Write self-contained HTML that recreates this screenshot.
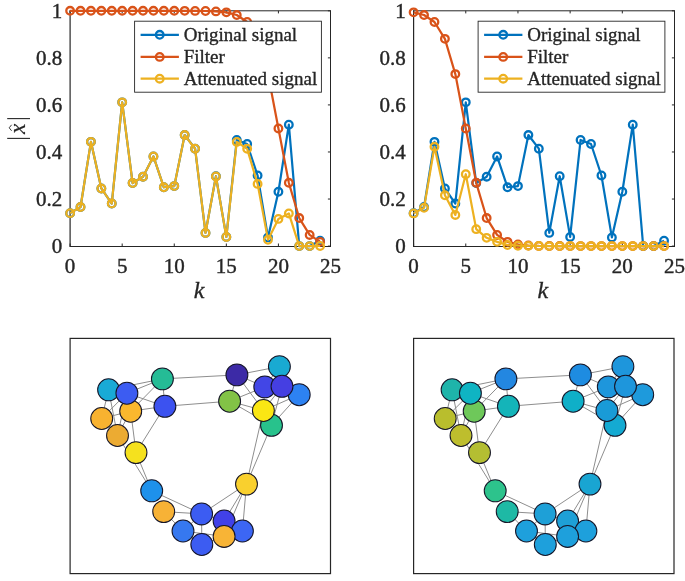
<!DOCTYPE html>
<html><head><meta charset="utf-8"><style>
html,body{margin:0;padding:0;background:#fff;width:685px;height:581px;overflow:hidden}
svg{display:block;filter:blur(0.35px)}
.t{font-family:"Liberation Serif",serif;font-size:21px;fill:#262626;stroke:#262626;stroke-width:0.4px}
.lg{font-family:"Liberation Serif",serif;font-size:19px;fill:#262626;stroke:#262626;stroke-width:0.35px}
.xl{font-family:"Liberation Serif",serif;font-style:italic;font-size:24px;fill:#262626;stroke:#262626;stroke-width:0.3px}
</style></head><body>
<svg width="685" height="581" viewBox="0 0 685 581">
<path d="M70.1,10.8 H330.5 V246.5 H70.1 Z" fill="#fff" stroke="none"/>
<line x1="70.1" y1="10.8" x2="70.1" y2="246.5" stroke="#262626" stroke-width="1.2"/>
<line x1="69.5" y1="246.5" x2="331.0" y2="246.5" stroke="#262626" stroke-width="1"/>
<line x1="69.5" y1="10.8" x2="331.0" y2="10.8" stroke="#262626" stroke-width="1"/>
<line x1="330.5" y1="10.8" x2="330.5" y2="246.5" stroke="#262626" stroke-width="1"/>
<line x1="70.1" y1="246.1" x2="70.1" y2="243.5" stroke="#262626" stroke-width="1"/>
<line x1="70.1" y1="10.8" x2="70.1" y2="13.4" stroke="#262626" stroke-width="1"/>
<text x="70.1" y="272.5" text-anchor="middle" class="t">0</text>
<line x1="122.18" y1="246.1" x2="122.18" y2="243.5" stroke="#262626" stroke-width="1"/>
<line x1="122.18" y1="10.8" x2="122.18" y2="13.4" stroke="#262626" stroke-width="1"/>
<text x="122.18" y="272.5" text-anchor="middle" class="t">5</text>
<line x1="174.26" y1="246.1" x2="174.26" y2="243.5" stroke="#262626" stroke-width="1"/>
<line x1="174.26" y1="10.8" x2="174.26" y2="13.4" stroke="#262626" stroke-width="1"/>
<text x="174.26" y="272.5" text-anchor="middle" class="t">10</text>
<line x1="226.34" y1="246.1" x2="226.34" y2="243.5" stroke="#262626" stroke-width="1"/>
<line x1="226.34" y1="10.8" x2="226.34" y2="13.4" stroke="#262626" stroke-width="1"/>
<text x="226.34" y="272.5" text-anchor="middle" class="t">15</text>
<line x1="278.42" y1="246.1" x2="278.42" y2="243.5" stroke="#262626" stroke-width="1"/>
<line x1="278.42" y1="10.8" x2="278.42" y2="13.4" stroke="#262626" stroke-width="1"/>
<text x="278.42" y="272.5" text-anchor="middle" class="t">20</text>
<line x1="330.5" y1="246.1" x2="330.5" y2="243.5" stroke="#262626" stroke-width="1"/>
<line x1="330.5" y1="10.8" x2="330.5" y2="13.4" stroke="#262626" stroke-width="1"/>
<text x="330.5" y="272.5" text-anchor="middle" class="t">25</text>
<line x1="330.5" y1="246.1" x2="327.9" y2="246.1" stroke="#262626" stroke-width="1"/>
<text x="62.3" y="253.30" text-anchor="end" class="t">0</text>
<line x1="330.5" y1="199.04" x2="327.9" y2="199.04" stroke="#262626" stroke-width="1"/>
<text x="62.3" y="206.24" text-anchor="end" class="t">0.2</text>
<line x1="330.5" y1="151.98" x2="327.9" y2="151.98" stroke="#262626" stroke-width="1"/>
<text x="62.3" y="159.18" text-anchor="end" class="t">0.4</text>
<line x1="330.5" y1="104.92" x2="327.9" y2="104.92" stroke="#262626" stroke-width="1"/>
<text x="62.3" y="112.12" text-anchor="end" class="t">0.6</text>
<line x1="330.5" y1="57.86" x2="327.9" y2="57.86" stroke="#262626" stroke-width="1"/>
<text x="62.3" y="65.06" text-anchor="end" class="t">0.8</text>
<line x1="330.5" y1="10.8" x2="327.9" y2="10.8" stroke="#262626" stroke-width="1"/>
<text x="62.3" y="18.00" text-anchor="end" class="t">1</text>
<polyline points="70.10,213.16 80.52,207.04 90.93,141.86 101.35,188.45 111.76,203.51 122.18,102.33 132.60,183.04 143.01,176.69 153.43,156.45 163.84,187.28 174.26,186.10 184.68,135.04 195.09,148.69 205.51,232.92 215.92,176.22 226.34,236.92 236.76,139.98 247.17,143.98 257.59,175.51 268.00,237.39 278.42,191.75 288.84,124.69 299.25,246.10 309.67,246.10 320.08,240.69" fill="none" stroke="#0072BD" stroke-width="2.2" stroke-linejoin="round"/>
<circle cx="70.10" cy="213.16" r="3.8" fill="none" stroke="#0072BD" stroke-width="2.3"/>
<circle cx="80.52" cy="207.04" r="3.8" fill="none" stroke="#0072BD" stroke-width="2.3"/>
<circle cx="90.93" cy="141.86" r="3.8" fill="none" stroke="#0072BD" stroke-width="2.3"/>
<circle cx="101.35" cy="188.45" r="3.8" fill="none" stroke="#0072BD" stroke-width="2.3"/>
<circle cx="111.76" cy="203.51" r="3.8" fill="none" stroke="#0072BD" stroke-width="2.3"/>
<circle cx="122.18" cy="102.33" r="3.8" fill="none" stroke="#0072BD" stroke-width="2.3"/>
<circle cx="132.60" cy="183.04" r="3.8" fill="none" stroke="#0072BD" stroke-width="2.3"/>
<circle cx="143.01" cy="176.69" r="3.8" fill="none" stroke="#0072BD" stroke-width="2.3"/>
<circle cx="153.43" cy="156.45" r="3.8" fill="none" stroke="#0072BD" stroke-width="2.3"/>
<circle cx="163.84" cy="187.28" r="3.8" fill="none" stroke="#0072BD" stroke-width="2.3"/>
<circle cx="174.26" cy="186.10" r="3.8" fill="none" stroke="#0072BD" stroke-width="2.3"/>
<circle cx="184.68" cy="135.04" r="3.8" fill="none" stroke="#0072BD" stroke-width="2.3"/>
<circle cx="195.09" cy="148.69" r="3.8" fill="none" stroke="#0072BD" stroke-width="2.3"/>
<circle cx="205.51" cy="232.92" r="3.8" fill="none" stroke="#0072BD" stroke-width="2.3"/>
<circle cx="215.92" cy="176.22" r="3.8" fill="none" stroke="#0072BD" stroke-width="2.3"/>
<circle cx="226.34" cy="236.92" r="3.8" fill="none" stroke="#0072BD" stroke-width="2.3"/>
<circle cx="236.76" cy="139.98" r="3.8" fill="none" stroke="#0072BD" stroke-width="2.3"/>
<circle cx="247.17" cy="143.98" r="3.8" fill="none" stroke="#0072BD" stroke-width="2.3"/>
<circle cx="257.59" cy="175.51" r="3.8" fill="none" stroke="#0072BD" stroke-width="2.3"/>
<circle cx="268.00" cy="237.39" r="3.8" fill="none" stroke="#0072BD" stroke-width="2.3"/>
<circle cx="278.42" cy="191.75" r="3.8" fill="none" stroke="#0072BD" stroke-width="2.3"/>
<circle cx="288.84" cy="124.69" r="3.8" fill="none" stroke="#0072BD" stroke-width="2.3"/>
<circle cx="299.25" cy="246.10" r="3.8" fill="none" stroke="#0072BD" stroke-width="2.3"/>
<circle cx="309.67" cy="246.10" r="3.8" fill="none" stroke="#0072BD" stroke-width="2.3"/>
<circle cx="320.08" cy="240.69" r="3.8" fill="none" stroke="#0072BD" stroke-width="2.3"/>
<polyline points="70.10,10.80 80.52,10.80 90.93,10.80 101.35,10.80 111.76,10.80 122.18,10.80 132.60,10.80 143.01,10.80 153.43,10.80 163.84,10.80 174.26,10.81 184.68,10.83 195.09,10.88 205.51,11.01 215.92,11.38 226.34,12.37 236.76,15.03 247.17,21.96 257.59,38.85 268.00,74.08 278.42,128.45 288.84,182.82 299.25,218.05 309.67,234.94 320.08,241.87" fill="none" stroke="#D95319" stroke-width="2.2" stroke-linejoin="round"/>
<circle cx="70.10" cy="10.80" r="3.8" fill="none" stroke="#D95319" stroke-width="2.3"/>
<circle cx="80.52" cy="10.80" r="3.8" fill="none" stroke="#D95319" stroke-width="2.3"/>
<circle cx="90.93" cy="10.80" r="3.8" fill="none" stroke="#D95319" stroke-width="2.3"/>
<circle cx="101.35" cy="10.80" r="3.8" fill="none" stroke="#D95319" stroke-width="2.3"/>
<circle cx="111.76" cy="10.80" r="3.8" fill="none" stroke="#D95319" stroke-width="2.3"/>
<circle cx="122.18" cy="10.80" r="3.8" fill="none" stroke="#D95319" stroke-width="2.3"/>
<circle cx="132.60" cy="10.80" r="3.8" fill="none" stroke="#D95319" stroke-width="2.3"/>
<circle cx="143.01" cy="10.80" r="3.8" fill="none" stroke="#D95319" stroke-width="2.3"/>
<circle cx="153.43" cy="10.80" r="3.8" fill="none" stroke="#D95319" stroke-width="2.3"/>
<circle cx="163.84" cy="10.80" r="3.8" fill="none" stroke="#D95319" stroke-width="2.3"/>
<circle cx="174.26" cy="10.81" r="3.8" fill="none" stroke="#D95319" stroke-width="2.3"/>
<circle cx="184.68" cy="10.83" r="3.8" fill="none" stroke="#D95319" stroke-width="2.3"/>
<circle cx="195.09" cy="10.88" r="3.8" fill="none" stroke="#D95319" stroke-width="2.3"/>
<circle cx="205.51" cy="11.01" r="3.8" fill="none" stroke="#D95319" stroke-width="2.3"/>
<circle cx="215.92" cy="11.38" r="3.8" fill="none" stroke="#D95319" stroke-width="2.3"/>
<circle cx="226.34" cy="12.37" r="3.8" fill="none" stroke="#D95319" stroke-width="2.3"/>
<circle cx="236.76" cy="15.03" r="3.8" fill="none" stroke="#D95319" stroke-width="2.3"/>
<circle cx="247.17" cy="21.96" r="3.8" fill="none" stroke="#D95319" stroke-width="2.3"/>
<circle cx="257.59" cy="38.85" r="3.8" fill="none" stroke="#D95319" stroke-width="2.3"/>
<circle cx="268.00" cy="74.08" r="3.8" fill="none" stroke="#D95319" stroke-width="2.3"/>
<circle cx="278.42" cy="128.45" r="3.8" fill="none" stroke="#D95319" stroke-width="2.3"/>
<circle cx="288.84" cy="182.82" r="3.8" fill="none" stroke="#D95319" stroke-width="2.3"/>
<circle cx="299.25" cy="218.05" r="3.8" fill="none" stroke="#D95319" stroke-width="2.3"/>
<circle cx="309.67" cy="234.94" r="3.8" fill="none" stroke="#D95319" stroke-width="2.3"/>
<circle cx="320.08" cy="241.87" r="3.8" fill="none" stroke="#D95319" stroke-width="2.3"/>
<polyline points="70.10,213.16 80.52,207.04 90.93,141.86 101.35,188.45 111.76,203.51 122.18,102.33 132.60,183.04 143.01,176.69 153.43,156.45 163.84,187.28 174.26,186.10 184.68,135.05 195.09,148.72 205.51,232.94 215.92,176.39 226.34,236.98 236.76,141.89 247.17,148.82 257.59,183.92 268.00,239.74 278.42,218.92 288.84,213.45 299.25,246.10 309.67,246.10 320.08,246.00" fill="none" stroke="#EDB120" stroke-width="2.2" stroke-linejoin="round"/>
<circle cx="70.10" cy="213.16" r="3.8" fill="none" stroke="#EDB120" stroke-width="2.3"/>
<circle cx="80.52" cy="207.04" r="3.8" fill="none" stroke="#EDB120" stroke-width="2.3"/>
<circle cx="90.93" cy="141.86" r="3.8" fill="none" stroke="#EDB120" stroke-width="2.3"/>
<circle cx="101.35" cy="188.45" r="3.8" fill="none" stroke="#EDB120" stroke-width="2.3"/>
<circle cx="111.76" cy="203.51" r="3.8" fill="none" stroke="#EDB120" stroke-width="2.3"/>
<circle cx="122.18" cy="102.33" r="3.8" fill="none" stroke="#EDB120" stroke-width="2.3"/>
<circle cx="132.60" cy="183.04" r="3.8" fill="none" stroke="#EDB120" stroke-width="2.3"/>
<circle cx="143.01" cy="176.69" r="3.8" fill="none" stroke="#EDB120" stroke-width="2.3"/>
<circle cx="153.43" cy="156.45" r="3.8" fill="none" stroke="#EDB120" stroke-width="2.3"/>
<circle cx="163.84" cy="187.28" r="3.8" fill="none" stroke="#EDB120" stroke-width="2.3"/>
<circle cx="174.26" cy="186.10" r="3.8" fill="none" stroke="#EDB120" stroke-width="2.3"/>
<circle cx="184.68" cy="135.05" r="3.8" fill="none" stroke="#EDB120" stroke-width="2.3"/>
<circle cx="195.09" cy="148.72" r="3.8" fill="none" stroke="#EDB120" stroke-width="2.3"/>
<circle cx="205.51" cy="232.94" r="3.8" fill="none" stroke="#EDB120" stroke-width="2.3"/>
<circle cx="215.92" cy="176.39" r="3.8" fill="none" stroke="#EDB120" stroke-width="2.3"/>
<circle cx="226.34" cy="236.98" r="3.8" fill="none" stroke="#EDB120" stroke-width="2.3"/>
<circle cx="236.76" cy="141.89" r="3.8" fill="none" stroke="#EDB120" stroke-width="2.3"/>
<circle cx="247.17" cy="148.82" r="3.8" fill="none" stroke="#EDB120" stroke-width="2.3"/>
<circle cx="257.59" cy="183.92" r="3.8" fill="none" stroke="#EDB120" stroke-width="2.3"/>
<circle cx="268.00" cy="239.74" r="3.8" fill="none" stroke="#EDB120" stroke-width="2.3"/>
<circle cx="278.42" cy="218.92" r="3.8" fill="none" stroke="#EDB120" stroke-width="2.3"/>
<circle cx="288.84" cy="213.45" r="3.8" fill="none" stroke="#EDB120" stroke-width="2.3"/>
<circle cx="299.25" cy="246.10" r="3.8" fill="none" stroke="#EDB120" stroke-width="2.3"/>
<circle cx="309.67" cy="246.10" r="3.8" fill="none" stroke="#EDB120" stroke-width="2.3"/>
<circle cx="320.08" cy="246.00" r="3.8" fill="none" stroke="#EDB120" stroke-width="2.3"/>
<rect x="134.6" y="21.2" width="186.79999999999998" height="71.0" fill="#fff" stroke="#262626" stroke-width="0.9"/>
<line x1="140.6" y1="34.8" x2="178.89999999999998" y2="34.8" stroke="#0072BD" stroke-width="2.2"/>
<circle cx="159.7" cy="34.8" r="3.8" fill="none" stroke="#0072BD" stroke-width="2.3"/>
<text x="183.7" y="41.10" class="lg">Original signal</text>
<line x1="140.6" y1="56.9" x2="178.89999999999998" y2="56.9" stroke="#D95319" stroke-width="2.2"/>
<circle cx="159.7" cy="56.9" r="3.8" fill="none" stroke="#D95319" stroke-width="2.3"/>
<text x="183.7" y="63.20" class="lg">Filter</text>
<line x1="140.6" y1="78.7" x2="178.89999999999998" y2="78.7" stroke="#EDB120" stroke-width="2.2"/>
<circle cx="159.7" cy="78.7" r="3.8" fill="none" stroke="#EDB120" stroke-width="2.3"/>
<text x="183.7" y="85.00" class="lg">Attenuated signal</text>
<text x="199.10" y="298" text-anchor="middle" class="xl">k</text>
<path d="M413.6,10.8 H674.5 V246.5 H413.6 Z" fill="#fff" stroke="none"/>
<line x1="413.6" y1="10.8" x2="413.6" y2="246.5" stroke="#262626" stroke-width="1.2"/>
<line x1="413.0" y1="246.5" x2="675.0" y2="246.5" stroke="#262626" stroke-width="1"/>
<line x1="413.0" y1="10.8" x2="675.0" y2="10.8" stroke="#262626" stroke-width="1"/>
<line x1="674.5" y1="10.8" x2="674.5" y2="246.5" stroke="#262626" stroke-width="1"/>
<line x1="413.6" y1="246.1" x2="413.6" y2="243.5" stroke="#262626" stroke-width="1"/>
<line x1="413.6" y1="10.8" x2="413.6" y2="13.4" stroke="#262626" stroke-width="1"/>
<text x="413.6" y="272.5" text-anchor="middle" class="t">0</text>
<line x1="465.78" y1="246.1" x2="465.78" y2="243.5" stroke="#262626" stroke-width="1"/>
<line x1="465.78" y1="10.8" x2="465.78" y2="13.4" stroke="#262626" stroke-width="1"/>
<text x="465.78" y="272.5" text-anchor="middle" class="t">5</text>
<line x1="517.96" y1="246.1" x2="517.96" y2="243.5" stroke="#262626" stroke-width="1"/>
<line x1="517.96" y1="10.8" x2="517.96" y2="13.4" stroke="#262626" stroke-width="1"/>
<text x="517.96" y="272.5" text-anchor="middle" class="t">10</text>
<line x1="570.14" y1="246.1" x2="570.14" y2="243.5" stroke="#262626" stroke-width="1"/>
<line x1="570.14" y1="10.8" x2="570.14" y2="13.4" stroke="#262626" stroke-width="1"/>
<text x="570.14" y="272.5" text-anchor="middle" class="t">15</text>
<line x1="622.32" y1="246.1" x2="622.32" y2="243.5" stroke="#262626" stroke-width="1"/>
<line x1="622.32" y1="10.8" x2="622.32" y2="13.4" stroke="#262626" stroke-width="1"/>
<text x="622.32" y="272.5" text-anchor="middle" class="t">20</text>
<line x1="674.5" y1="246.1" x2="674.5" y2="243.5" stroke="#262626" stroke-width="1"/>
<line x1="674.5" y1="10.8" x2="674.5" y2="13.4" stroke="#262626" stroke-width="1"/>
<text x="674.5" y="272.5" text-anchor="middle" class="t">25</text>
<line x1="674.5" y1="246.1" x2="671.9" y2="246.1" stroke="#262626" stroke-width="1"/>
<text x="405.8" y="253.30" text-anchor="end" class="t">0</text>
<line x1="674.5" y1="199.04" x2="671.9" y2="199.04" stroke="#262626" stroke-width="1"/>
<text x="405.8" y="206.24" text-anchor="end" class="t">0.2</text>
<line x1="674.5" y1="151.98" x2="671.9" y2="151.98" stroke="#262626" stroke-width="1"/>
<text x="405.8" y="159.18" text-anchor="end" class="t">0.4</text>
<line x1="674.5" y1="104.92" x2="671.9" y2="104.92" stroke="#262626" stroke-width="1"/>
<text x="405.8" y="112.12" text-anchor="end" class="t">0.6</text>
<line x1="674.5" y1="57.86" x2="671.9" y2="57.86" stroke="#262626" stroke-width="1"/>
<text x="405.8" y="65.06" text-anchor="end" class="t">0.8</text>
<line x1="674.5" y1="10.8" x2="671.9" y2="10.8" stroke="#262626" stroke-width="1"/>
<text x="405.8" y="18.00" text-anchor="end" class="t">1</text>
<polyline points="413.60,213.16 424.04,207.04 434.47,141.86 444.91,188.45 455.34,203.51 465.78,102.33 476.22,183.04 486.65,176.69 497.09,156.45 507.52,187.28 517.96,186.10 528.40,135.04 538.83,148.69 549.27,232.92 559.70,176.22 570.14,236.92 580.58,139.98 591.01,143.98 601.45,175.51 611.88,237.39 622.32,191.75 632.76,124.69 643.19,246.10 653.63,246.10 664.06,240.69" fill="none" stroke="#0072BD" stroke-width="2.2" stroke-linejoin="round"/>
<circle cx="413.60" cy="213.16" r="3.8" fill="none" stroke="#0072BD" stroke-width="2.3"/>
<circle cx="424.04" cy="207.04" r="3.8" fill="none" stroke="#0072BD" stroke-width="2.3"/>
<circle cx="434.47" cy="141.86" r="3.8" fill="none" stroke="#0072BD" stroke-width="2.3"/>
<circle cx="444.91" cy="188.45" r="3.8" fill="none" stroke="#0072BD" stroke-width="2.3"/>
<circle cx="455.34" cy="203.51" r="3.8" fill="none" stroke="#0072BD" stroke-width="2.3"/>
<circle cx="465.78" cy="102.33" r="3.8" fill="none" stroke="#0072BD" stroke-width="2.3"/>
<circle cx="476.22" cy="183.04" r="3.8" fill="none" stroke="#0072BD" stroke-width="2.3"/>
<circle cx="486.65" cy="176.69" r="3.8" fill="none" stroke="#0072BD" stroke-width="2.3"/>
<circle cx="497.09" cy="156.45" r="3.8" fill="none" stroke="#0072BD" stroke-width="2.3"/>
<circle cx="507.52" cy="187.28" r="3.8" fill="none" stroke="#0072BD" stroke-width="2.3"/>
<circle cx="517.96" cy="186.10" r="3.8" fill="none" stroke="#0072BD" stroke-width="2.3"/>
<circle cx="528.40" cy="135.04" r="3.8" fill="none" stroke="#0072BD" stroke-width="2.3"/>
<circle cx="538.83" cy="148.69" r="3.8" fill="none" stroke="#0072BD" stroke-width="2.3"/>
<circle cx="549.27" cy="232.92" r="3.8" fill="none" stroke="#0072BD" stroke-width="2.3"/>
<circle cx="559.70" cy="176.22" r="3.8" fill="none" stroke="#0072BD" stroke-width="2.3"/>
<circle cx="570.14" cy="236.92" r="3.8" fill="none" stroke="#0072BD" stroke-width="2.3"/>
<circle cx="580.58" cy="139.98" r="3.8" fill="none" stroke="#0072BD" stroke-width="2.3"/>
<circle cx="591.01" cy="143.98" r="3.8" fill="none" stroke="#0072BD" stroke-width="2.3"/>
<circle cx="601.45" cy="175.51" r="3.8" fill="none" stroke="#0072BD" stroke-width="2.3"/>
<circle cx="611.88" cy="237.39" r="3.8" fill="none" stroke="#0072BD" stroke-width="2.3"/>
<circle cx="622.32" cy="191.75" r="3.8" fill="none" stroke="#0072BD" stroke-width="2.3"/>
<circle cx="632.76" cy="124.69" r="3.8" fill="none" stroke="#0072BD" stroke-width="2.3"/>
<circle cx="643.19" cy="246.10" r="3.8" fill="none" stroke="#0072BD" stroke-width="2.3"/>
<circle cx="653.63" cy="246.10" r="3.8" fill="none" stroke="#0072BD" stroke-width="2.3"/>
<circle cx="664.06" cy="240.69" r="3.8" fill="none" stroke="#0072BD" stroke-width="2.3"/>
<polyline points="413.60,12.37 424.04,15.03 434.47,21.96 444.91,38.85 455.34,74.08 465.78,128.45 476.22,182.82 486.65,218.05 497.09,234.94 507.52,241.87 517.96,244.53 528.40,245.52 538.83,245.89 549.27,246.02 559.70,246.07 570.14,246.09 580.58,246.10 591.01,246.10 601.45,246.10 611.88,246.10 622.32,246.10 632.76,246.10 643.19,246.10 653.63,246.10 664.06,246.10" fill="none" stroke="#D95319" stroke-width="2.2" stroke-linejoin="round"/>
<circle cx="413.60" cy="12.37" r="3.8" fill="none" stroke="#D95319" stroke-width="2.3"/>
<circle cx="424.04" cy="15.03" r="3.8" fill="none" stroke="#D95319" stroke-width="2.3"/>
<circle cx="434.47" cy="21.96" r="3.8" fill="none" stroke="#D95319" stroke-width="2.3"/>
<circle cx="444.91" cy="38.85" r="3.8" fill="none" stroke="#D95319" stroke-width="2.3"/>
<circle cx="455.34" cy="74.08" r="3.8" fill="none" stroke="#D95319" stroke-width="2.3"/>
<circle cx="465.78" cy="128.45" r="3.8" fill="none" stroke="#D95319" stroke-width="2.3"/>
<circle cx="476.22" cy="182.82" r="3.8" fill="none" stroke="#D95319" stroke-width="2.3"/>
<circle cx="486.65" cy="218.05" r="3.8" fill="none" stroke="#D95319" stroke-width="2.3"/>
<circle cx="497.09" cy="234.94" r="3.8" fill="none" stroke="#D95319" stroke-width="2.3"/>
<circle cx="507.52" cy="241.87" r="3.8" fill="none" stroke="#D95319" stroke-width="2.3"/>
<circle cx="517.96" cy="244.53" r="3.8" fill="none" stroke="#D95319" stroke-width="2.3"/>
<circle cx="528.40" cy="245.52" r="3.8" fill="none" stroke="#D95319" stroke-width="2.3"/>
<circle cx="538.83" cy="245.89" r="3.8" fill="none" stroke="#D95319" stroke-width="2.3"/>
<circle cx="549.27" cy="246.02" r="3.8" fill="none" stroke="#D95319" stroke-width="2.3"/>
<circle cx="559.70" cy="246.07" r="3.8" fill="none" stroke="#D95319" stroke-width="2.3"/>
<circle cx="570.14" cy="246.09" r="3.8" fill="none" stroke="#D95319" stroke-width="2.3"/>
<circle cx="580.58" cy="246.10" r="3.8" fill="none" stroke="#D95319" stroke-width="2.3"/>
<circle cx="591.01" cy="246.10" r="3.8" fill="none" stroke="#D95319" stroke-width="2.3"/>
<circle cx="601.45" cy="246.10" r="3.8" fill="none" stroke="#D95319" stroke-width="2.3"/>
<circle cx="611.88" cy="246.10" r="3.8" fill="none" stroke="#D95319" stroke-width="2.3"/>
<circle cx="622.32" cy="246.10" r="3.8" fill="none" stroke="#D95319" stroke-width="2.3"/>
<circle cx="632.76" cy="246.10" r="3.8" fill="none" stroke="#D95319" stroke-width="2.3"/>
<circle cx="643.19" cy="246.10" r="3.8" fill="none" stroke="#D95319" stroke-width="2.3"/>
<circle cx="653.63" cy="246.10" r="3.8" fill="none" stroke="#D95319" stroke-width="2.3"/>
<circle cx="664.06" cy="246.10" r="3.8" fill="none" stroke="#D95319" stroke-width="2.3"/>
<polyline points="413.60,213.38 424.04,207.74 434.47,146.81 444.91,195.32 455.34,214.96 465.78,174.22 476.22,229.14 486.65,237.83 497.09,241.85 507.52,245.04 517.96,245.70 528.40,245.83 538.83,246.01 549.27,246.10 559.70,246.09 570.14,246.10 580.58,246.10 591.01,246.10 601.45,246.10 611.88,246.10 622.32,246.10 632.76,246.10 643.19,246.10 653.63,246.10 664.06,246.10" fill="none" stroke="#EDB120" stroke-width="2.2" stroke-linejoin="round"/>
<circle cx="413.60" cy="213.38" r="3.8" fill="none" stroke="#EDB120" stroke-width="2.3"/>
<circle cx="424.04" cy="207.74" r="3.8" fill="none" stroke="#EDB120" stroke-width="2.3"/>
<circle cx="434.47" cy="146.81" r="3.8" fill="none" stroke="#EDB120" stroke-width="2.3"/>
<circle cx="444.91" cy="195.32" r="3.8" fill="none" stroke="#EDB120" stroke-width="2.3"/>
<circle cx="455.34" cy="214.96" r="3.8" fill="none" stroke="#EDB120" stroke-width="2.3"/>
<circle cx="465.78" cy="174.22" r="3.8" fill="none" stroke="#EDB120" stroke-width="2.3"/>
<circle cx="476.22" cy="229.14" r="3.8" fill="none" stroke="#EDB120" stroke-width="2.3"/>
<circle cx="486.65" cy="237.83" r="3.8" fill="none" stroke="#EDB120" stroke-width="2.3"/>
<circle cx="497.09" cy="241.85" r="3.8" fill="none" stroke="#EDB120" stroke-width="2.3"/>
<circle cx="507.52" cy="245.04" r="3.8" fill="none" stroke="#EDB120" stroke-width="2.3"/>
<circle cx="517.96" cy="245.70" r="3.8" fill="none" stroke="#EDB120" stroke-width="2.3"/>
<circle cx="528.40" cy="245.83" r="3.8" fill="none" stroke="#EDB120" stroke-width="2.3"/>
<circle cx="538.83" cy="246.01" r="3.8" fill="none" stroke="#EDB120" stroke-width="2.3"/>
<circle cx="549.27" cy="246.10" r="3.8" fill="none" stroke="#EDB120" stroke-width="2.3"/>
<circle cx="559.70" cy="246.09" r="3.8" fill="none" stroke="#EDB120" stroke-width="2.3"/>
<circle cx="570.14" cy="246.10" r="3.8" fill="none" stroke="#EDB120" stroke-width="2.3"/>
<circle cx="580.58" cy="246.10" r="3.8" fill="none" stroke="#EDB120" stroke-width="2.3"/>
<circle cx="591.01" cy="246.10" r="3.8" fill="none" stroke="#EDB120" stroke-width="2.3"/>
<circle cx="601.45" cy="246.10" r="3.8" fill="none" stroke="#EDB120" stroke-width="2.3"/>
<circle cx="611.88" cy="246.10" r="3.8" fill="none" stroke="#EDB120" stroke-width="2.3"/>
<circle cx="622.32" cy="246.10" r="3.8" fill="none" stroke="#EDB120" stroke-width="2.3"/>
<circle cx="632.76" cy="246.10" r="3.8" fill="none" stroke="#EDB120" stroke-width="2.3"/>
<circle cx="643.19" cy="246.10" r="3.8" fill="none" stroke="#EDB120" stroke-width="2.3"/>
<circle cx="653.63" cy="246.10" r="3.8" fill="none" stroke="#EDB120" stroke-width="2.3"/>
<circle cx="664.06" cy="246.10" r="3.8" fill="none" stroke="#EDB120" stroke-width="2.3"/>
<rect x="478.1" y="21.2" width="186.80000000000007" height="71.0" fill="#fff" stroke="#262626" stroke-width="0.9"/>
<line x1="484.1" y1="34.8" x2="522.4" y2="34.8" stroke="#0072BD" stroke-width="2.2"/>
<circle cx="503.20000000000005" cy="34.8" r="3.8" fill="none" stroke="#0072BD" stroke-width="2.3"/>
<text x="527.2" y="41.10" class="lg">Original signal</text>
<line x1="484.1" y1="56.9" x2="522.4" y2="56.9" stroke="#D95319" stroke-width="2.2"/>
<circle cx="503.20000000000005" cy="56.9" r="3.8" fill="none" stroke="#D95319" stroke-width="2.3"/>
<text x="527.2" y="63.20" class="lg">Filter</text>
<line x1="484.1" y1="78.7" x2="522.4" y2="78.7" stroke="#EDB120" stroke-width="2.2"/>
<circle cx="503.20000000000005" cy="78.7" r="3.8" fill="none" stroke="#EDB120" stroke-width="2.3"/>
<text x="527.2" y="85.00" class="lg">Attenuated signal</text>
<text x="542.85" y="298" text-anchor="middle" class="xl">k</text>
<line x1="7.2" y1="118.6" x2="30" y2="118.6" stroke="#262626" stroke-width="1.1"/>
<line x1="7.2" y1="138.4" x2="30" y2="138.4" stroke="#262626" stroke-width="1.1"/>
<text transform="translate(24.8,128.7) rotate(-90)" text-anchor="middle" class="xl" style="font-size:23.5px;stroke-width:0.15px">x</text>
<path d="M11.6,124.8 L9.2,127.8 L11.6,130.8" fill="none" stroke="#262626" stroke-width="0.9"/>
<rect x="70.1" y="338.4" width="260.4" height="235.2" fill="#fff" stroke="#262626" stroke-width="1.2"/>
<line x1="108.6" y1="389.8" x2="162.4" y2="378.9" stroke="#8e8e8e" stroke-width="1.0"/>
<line x1="126.9" y1="393.2" x2="162.4" y2="378.9" stroke="#8e8e8e" stroke-width="1.0"/>
<line x1="162.4" y1="378.9" x2="164.9" y2="406.3" stroke="#8e8e8e" stroke-width="1.0"/>
<line x1="126.9" y1="393.2" x2="164.9" y2="406.3" stroke="#8e8e8e" stroke-width="1.0"/>
<line x1="164.9" y1="406.3" x2="130.7" y2="411.2" stroke="#8e8e8e" stroke-width="1.0"/>
<line x1="162.4" y1="378.9" x2="130.7" y2="411.2" stroke="#8e8e8e" stroke-width="1.0"/>
<line x1="108.6" y1="389.8" x2="101.7" y2="418.5" stroke="#8e8e8e" stroke-width="1.0"/>
<line x1="108.6" y1="389.8" x2="117.5" y2="435.5" stroke="#8e8e8e" stroke-width="1.0"/>
<line x1="126.9" y1="393.2" x2="117.5" y2="435.5" stroke="#8e8e8e" stroke-width="1.0"/>
<line x1="130.7" y1="411.2" x2="117.5" y2="435.5" stroke="#8e8e8e" stroke-width="1.0"/>
<line x1="126.9" y1="393.2" x2="101.7" y2="418.5" stroke="#8e8e8e" stroke-width="1.0"/>
<line x1="108.6" y1="389.8" x2="130.7" y2="411.2" stroke="#8e8e8e" stroke-width="1.0"/>
<line x1="130.7" y1="411.2" x2="101.7" y2="418.5" stroke="#8e8e8e" stroke-width="1.0"/>
<line x1="101.7" y1="418.5" x2="117.5" y2="435.5" stroke="#8e8e8e" stroke-width="1.0"/>
<line x1="164.9" y1="406.3" x2="136.0" y2="452.6" stroke="#8e8e8e" stroke-width="1.0"/>
<line x1="130.7" y1="411.2" x2="136.0" y2="452.6" stroke="#8e8e8e" stroke-width="1.0"/>
<line x1="117.5" y1="435.5" x2="151.7" y2="490.8" stroke="#8e8e8e" stroke-width="1.0"/>
<line x1="136.0" y1="452.6" x2="151.7" y2="490.8" stroke="#8e8e8e" stroke-width="1.0"/>
<line x1="162.4" y1="378.9" x2="236.9" y2="374.9" stroke="#8e8e8e" stroke-width="1.0"/>
<line x1="164.9" y1="406.3" x2="229.6" y2="401.2" stroke="#8e8e8e" stroke-width="1.0"/>
<line x1="236.9" y1="374.9" x2="279.4" y2="366.6" stroke="#8e8e8e" stroke-width="1.0"/>
<line x1="236.9" y1="374.9" x2="264.8" y2="386.9" stroke="#8e8e8e" stroke-width="1.0"/>
<line x1="236.9" y1="374.9" x2="229.6" y2="401.2" stroke="#8e8e8e" stroke-width="1.0"/>
<line x1="236.9" y1="374.9" x2="263.4" y2="410.5" stroke="#8e8e8e" stroke-width="1.0"/>
<line x1="229.6" y1="401.2" x2="264.8" y2="386.9" stroke="#8e8e8e" stroke-width="1.0"/>
<line x1="229.6" y1="401.2" x2="263.4" y2="410.5" stroke="#8e8e8e" stroke-width="1.0"/>
<line x1="229.6" y1="401.2" x2="271.5" y2="425.3" stroke="#8e8e8e" stroke-width="1.0"/>
<line x1="263.4" y1="410.5" x2="282.0" y2="386.3" stroke="#8e8e8e" stroke-width="1.0"/>
<line x1="263.4" y1="410.5" x2="299.2" y2="394.7" stroke="#8e8e8e" stroke-width="1.0"/>
<line x1="271.5" y1="425.3" x2="299.2" y2="394.7" stroke="#8e8e8e" stroke-width="1.0"/>
<line x1="271.5" y1="425.3" x2="282.0" y2="386.3" stroke="#8e8e8e" stroke-width="1.0"/>
<line x1="279.4" y1="366.6" x2="282.0" y2="386.3" stroke="#8e8e8e" stroke-width="1.0"/>
<line x1="279.4" y1="366.6" x2="264.8" y2="386.9" stroke="#8e8e8e" stroke-width="1.0"/>
<line x1="264.8" y1="386.9" x2="282.0" y2="386.3" stroke="#8e8e8e" stroke-width="1.0"/>
<line x1="282.0" y1="386.3" x2="299.2" y2="394.7" stroke="#8e8e8e" stroke-width="1.0"/>
<line x1="279.4" y1="366.6" x2="299.2" y2="394.7" stroke="#8e8e8e" stroke-width="1.0"/>
<line x1="264.8" y1="386.9" x2="263.4" y2="410.5" stroke="#8e8e8e" stroke-width="1.0"/>
<line x1="271.5" y1="425.3" x2="246.5" y2="484.1" stroke="#8e8e8e" stroke-width="1.0"/>
<line x1="263.4" y1="410.5" x2="246.5" y2="484.1" stroke="#8e8e8e" stroke-width="1.0"/>
<line x1="151.7" y1="490.8" x2="201.6" y2="513.9" stroke="#8e8e8e" stroke-width="1.0"/>
<line x1="163.7" y1="511.6" x2="201.6" y2="513.9" stroke="#8e8e8e" stroke-width="1.0"/>
<line x1="163.7" y1="511.6" x2="183.0" y2="531.0" stroke="#8e8e8e" stroke-width="1.0"/>
<line x1="201.6" y1="513.9" x2="246.5" y2="484.1" stroke="#8e8e8e" stroke-width="1.0"/>
<line x1="246.5" y1="484.1" x2="224.1" y2="521.0" stroke="#8e8e8e" stroke-width="1.0"/>
<line x1="246.5" y1="484.1" x2="224.1" y2="536.4" stroke="#8e8e8e" stroke-width="1.0"/>
<line x1="246.5" y1="484.1" x2="242.4" y2="531.0" stroke="#8e8e8e" stroke-width="1.0"/>
<line x1="201.6" y1="513.9" x2="201.8" y2="544.5" stroke="#8e8e8e" stroke-width="1.0"/>
<line x1="183.0" y1="531.0" x2="201.8" y2="544.5" stroke="#8e8e8e" stroke-width="1.0"/>
<line x1="201.6" y1="513.9" x2="183.0" y2="531.0" stroke="#8e8e8e" stroke-width="1.0"/>
<line x1="201.8" y1="544.5" x2="224.1" y2="536.4" stroke="#8e8e8e" stroke-width="1.0"/>
<line x1="224.1" y1="521.0" x2="224.1" y2="536.4" stroke="#8e8e8e" stroke-width="1.0"/>
<line x1="224.1" y1="521.0" x2="242.4" y2="531.0" stroke="#8e8e8e" stroke-width="1.0"/>
<line x1="224.1" y1="536.4" x2="242.4" y2="531.0" stroke="#8e8e8e" stroke-width="1.0"/>
<line x1="201.6" y1="513.9" x2="224.1" y2="521.0" stroke="#8e8e8e" stroke-width="1.0"/>
<line x1="183.0" y1="531.0" x2="224.1" y2="536.4" stroke="#8e8e8e" stroke-width="1.0"/>
<line x1="201.8" y1="544.5" x2="242.4" y2="531.0" stroke="#8e8e8e" stroke-width="1.0"/>
<circle cx="108.6" cy="389.8" r="10.95" fill="#19AAD6" stroke="#161628" stroke-width="1.05"/>
<circle cx="130.7" cy="411.2" r="10.95" fill="#FAB82E" stroke="#161628" stroke-width="1.05"/>
<circle cx="126.9" cy="393.2" r="10.95" fill="#3C5CF2" stroke="#161628" stroke-width="1.05"/>
<circle cx="162.4" cy="378.9" r="10.95" fill="#25BC96" stroke="#161628" stroke-width="1.05"/>
<circle cx="164.9" cy="406.3" r="10.95" fill="#3C52F0" stroke="#161628" stroke-width="1.05"/>
<circle cx="101.7" cy="418.5" r="10.95" fill="#F8B230" stroke="#161628" stroke-width="1.05"/>
<circle cx="117.5" cy="435.5" r="10.95" fill="#ECAB32" stroke="#161628" stroke-width="1.05"/>
<circle cx="136.0" cy="452.6" r="10.95" fill="#F5E11E" stroke="#161628" stroke-width="1.05"/>
<circle cx="236.9" cy="374.9" r="10.95" fill="#3C2AA6" stroke="#161628" stroke-width="1.05"/>
<circle cx="279.4" cy="366.6" r="10.95" fill="#19AAD2" stroke="#161628" stroke-width="1.05"/>
<circle cx="264.8" cy="386.9" r="10.95" fill="#4246E6" stroke="#161628" stroke-width="1.05"/>
<circle cx="299.2" cy="394.7" r="10.95" fill="#2D82F2" stroke="#161628" stroke-width="1.05"/>
<circle cx="282.0" cy="386.3" r="10.95" fill="#453FE2" stroke="#161628" stroke-width="1.05"/>
<circle cx="229.6" cy="401.2" r="10.95" fill="#82C346" stroke="#161628" stroke-width="1.05"/>
<circle cx="271.5" cy="425.3" r="10.95" fill="#28C28C" stroke="#161628" stroke-width="1.05"/>
<circle cx="263.4" cy="410.5" r="10.95" fill="#FAE614" stroke="#161628" stroke-width="1.05"/>
<circle cx="151.7" cy="490.8" r="10.95" fill="#1E91EB" stroke="#161628" stroke-width="1.05"/>
<circle cx="163.7" cy="511.6" r="10.95" fill="#F7B236" stroke="#161628" stroke-width="1.05"/>
<circle cx="201.6" cy="513.9" r="10.95" fill="#3C5CF2" stroke="#161628" stroke-width="1.05"/>
<circle cx="224.1" cy="521.0" r="10.95" fill="#4141E8" stroke="#161628" stroke-width="1.05"/>
<circle cx="183.0" cy="531.0" r="10.95" fill="#3678F0" stroke="#161628" stroke-width="1.05"/>
<circle cx="201.8" cy="544.5" r="10.95" fill="#3C5CF2" stroke="#161628" stroke-width="1.05"/>
<circle cx="242.4" cy="531.0" r="10.95" fill="#3C66F4" stroke="#161628" stroke-width="1.05"/>
<circle cx="224.1" cy="536.4" r="10.95" fill="#F8B436" stroke="#161628" stroke-width="1.05"/>
<circle cx="246.5" cy="484.1" r="10.95" fill="#F9D02E" stroke="#161628" stroke-width="1.05"/>
<rect x="413.6" y="338.4" width="260.4" height="235.2" fill="#fff" stroke="#262626" stroke-width="1.2"/>
<line x1="452.1" y1="389.8" x2="505.9" y2="378.9" stroke="#8e8e8e" stroke-width="1.0"/>
<line x1="470.4" y1="393.2" x2="505.9" y2="378.9" stroke="#8e8e8e" stroke-width="1.0"/>
<line x1="505.9" y1="378.9" x2="508.4" y2="406.3" stroke="#8e8e8e" stroke-width="1.0"/>
<line x1="470.4" y1="393.2" x2="508.4" y2="406.3" stroke="#8e8e8e" stroke-width="1.0"/>
<line x1="508.4" y1="406.3" x2="474.2" y2="411.2" stroke="#8e8e8e" stroke-width="1.0"/>
<line x1="505.9" y1="378.9" x2="474.2" y2="411.2" stroke="#8e8e8e" stroke-width="1.0"/>
<line x1="452.1" y1="389.8" x2="445.2" y2="418.5" stroke="#8e8e8e" stroke-width="1.0"/>
<line x1="452.1" y1="389.8" x2="461.0" y2="435.5" stroke="#8e8e8e" stroke-width="1.0"/>
<line x1="470.4" y1="393.2" x2="461.0" y2="435.5" stroke="#8e8e8e" stroke-width="1.0"/>
<line x1="474.2" y1="411.2" x2="461.0" y2="435.5" stroke="#8e8e8e" stroke-width="1.0"/>
<line x1="470.4" y1="393.2" x2="445.2" y2="418.5" stroke="#8e8e8e" stroke-width="1.0"/>
<line x1="452.1" y1="389.8" x2="474.2" y2="411.2" stroke="#8e8e8e" stroke-width="1.0"/>
<line x1="474.2" y1="411.2" x2="445.2" y2="418.5" stroke="#8e8e8e" stroke-width="1.0"/>
<line x1="445.2" y1="418.5" x2="461.0" y2="435.5" stroke="#8e8e8e" stroke-width="1.0"/>
<line x1="508.4" y1="406.3" x2="479.5" y2="452.6" stroke="#8e8e8e" stroke-width="1.0"/>
<line x1="474.2" y1="411.2" x2="479.5" y2="452.6" stroke="#8e8e8e" stroke-width="1.0"/>
<line x1="461.0" y1="435.5" x2="495.2" y2="490.8" stroke="#8e8e8e" stroke-width="1.0"/>
<line x1="479.5" y1="452.6" x2="495.2" y2="490.8" stroke="#8e8e8e" stroke-width="1.0"/>
<line x1="505.9" y1="378.9" x2="580.4" y2="374.9" stroke="#8e8e8e" stroke-width="1.0"/>
<line x1="508.4" y1="406.3" x2="573.1" y2="401.2" stroke="#8e8e8e" stroke-width="1.0"/>
<line x1="580.4" y1="374.9" x2="622.9" y2="366.6" stroke="#8e8e8e" stroke-width="1.0"/>
<line x1="580.4" y1="374.9" x2="608.3" y2="386.9" stroke="#8e8e8e" stroke-width="1.0"/>
<line x1="580.4" y1="374.9" x2="573.1" y2="401.2" stroke="#8e8e8e" stroke-width="1.0"/>
<line x1="580.4" y1="374.9" x2="606.9" y2="410.5" stroke="#8e8e8e" stroke-width="1.0"/>
<line x1="573.1" y1="401.2" x2="608.3" y2="386.9" stroke="#8e8e8e" stroke-width="1.0"/>
<line x1="573.1" y1="401.2" x2="606.9" y2="410.5" stroke="#8e8e8e" stroke-width="1.0"/>
<line x1="573.1" y1="401.2" x2="615.0" y2="425.3" stroke="#8e8e8e" stroke-width="1.0"/>
<line x1="606.9" y1="410.5" x2="625.5" y2="386.3" stroke="#8e8e8e" stroke-width="1.0"/>
<line x1="606.9" y1="410.5" x2="642.7" y2="394.7" stroke="#8e8e8e" stroke-width="1.0"/>
<line x1="615.0" y1="425.3" x2="642.7" y2="394.7" stroke="#8e8e8e" stroke-width="1.0"/>
<line x1="615.0" y1="425.3" x2="625.5" y2="386.3" stroke="#8e8e8e" stroke-width="1.0"/>
<line x1="622.9" y1="366.6" x2="625.5" y2="386.3" stroke="#8e8e8e" stroke-width="1.0"/>
<line x1="622.9" y1="366.6" x2="608.3" y2="386.9" stroke="#8e8e8e" stroke-width="1.0"/>
<line x1="608.3" y1="386.9" x2="625.5" y2="386.3" stroke="#8e8e8e" stroke-width="1.0"/>
<line x1="625.5" y1="386.3" x2="642.7" y2="394.7" stroke="#8e8e8e" stroke-width="1.0"/>
<line x1="622.9" y1="366.6" x2="642.7" y2="394.7" stroke="#8e8e8e" stroke-width="1.0"/>
<line x1="608.3" y1="386.9" x2="606.9" y2="410.5" stroke="#8e8e8e" stroke-width="1.0"/>
<line x1="615.0" y1="425.3" x2="590.0" y2="484.1" stroke="#8e8e8e" stroke-width="1.0"/>
<line x1="606.9" y1="410.5" x2="590.0" y2="484.1" stroke="#8e8e8e" stroke-width="1.0"/>
<line x1="495.2" y1="490.8" x2="545.1" y2="513.9" stroke="#8e8e8e" stroke-width="1.0"/>
<line x1="507.2" y1="511.6" x2="545.1" y2="513.9" stroke="#8e8e8e" stroke-width="1.0"/>
<line x1="507.2" y1="511.6" x2="526.5" y2="531.0" stroke="#8e8e8e" stroke-width="1.0"/>
<line x1="545.1" y1="513.9" x2="590.0" y2="484.1" stroke="#8e8e8e" stroke-width="1.0"/>
<line x1="590.0" y1="484.1" x2="567.6" y2="521.0" stroke="#8e8e8e" stroke-width="1.0"/>
<line x1="590.0" y1="484.1" x2="567.6" y2="536.4" stroke="#8e8e8e" stroke-width="1.0"/>
<line x1="590.0" y1="484.1" x2="585.9" y2="531.0" stroke="#8e8e8e" stroke-width="1.0"/>
<line x1="545.1" y1="513.9" x2="545.3" y2="544.5" stroke="#8e8e8e" stroke-width="1.0"/>
<line x1="526.5" y1="531.0" x2="545.3" y2="544.5" stroke="#8e8e8e" stroke-width="1.0"/>
<line x1="545.1" y1="513.9" x2="526.5" y2="531.0" stroke="#8e8e8e" stroke-width="1.0"/>
<line x1="545.3" y1="544.5" x2="567.6" y2="536.4" stroke="#8e8e8e" stroke-width="1.0"/>
<line x1="567.6" y1="521.0" x2="567.6" y2="536.4" stroke="#8e8e8e" stroke-width="1.0"/>
<line x1="567.6" y1="521.0" x2="585.9" y2="531.0" stroke="#8e8e8e" stroke-width="1.0"/>
<line x1="567.6" y1="536.4" x2="585.9" y2="531.0" stroke="#8e8e8e" stroke-width="1.0"/>
<line x1="545.1" y1="513.9" x2="567.6" y2="521.0" stroke="#8e8e8e" stroke-width="1.0"/>
<line x1="526.5" y1="531.0" x2="567.6" y2="536.4" stroke="#8e8e8e" stroke-width="1.0"/>
<line x1="545.3" y1="544.5" x2="585.9" y2="531.0" stroke="#8e8e8e" stroke-width="1.0"/>
<circle cx="452.1" cy="389.8" r="10.95" fill="#1EB4AA" stroke="#161628" stroke-width="1.05"/>
<circle cx="474.2" cy="411.2" r="10.95" fill="#6EC85A" stroke="#161628" stroke-width="1.05"/>
<circle cx="470.4" cy="393.2" r="10.95" fill="#0FB4C3" stroke="#161628" stroke-width="1.05"/>
<circle cx="505.9" cy="378.9" r="10.95" fill="#2387E1" stroke="#161628" stroke-width="1.05"/>
<circle cx="508.4" cy="406.3" r="10.95" fill="#14B4B9" stroke="#161628" stroke-width="1.05"/>
<circle cx="445.2" cy="418.5" r="10.95" fill="#B9BE2D" stroke="#161628" stroke-width="1.05"/>
<circle cx="461.0" cy="435.5" r="10.95" fill="#BEBE2D" stroke="#161628" stroke-width="1.05"/>
<circle cx="479.5" cy="452.6" r="10.95" fill="#B4BE32" stroke="#161628" stroke-width="1.05"/>
<circle cx="580.4" cy="374.9" r="10.95" fill="#1E8CE1" stroke="#161628" stroke-width="1.05"/>
<circle cx="622.9" cy="366.6" r="10.95" fill="#1E96DC" stroke="#161628" stroke-width="1.05"/>
<circle cx="608.3" cy="386.9" r="10.95" fill="#1E96DC" stroke="#161628" stroke-width="1.05"/>
<circle cx="642.7" cy="394.7" r="10.95" fill="#1E9ADC" stroke="#161628" stroke-width="1.05"/>
<circle cx="625.5" cy="386.3" r="10.95" fill="#1E96DC" stroke="#161628" stroke-width="1.05"/>
<circle cx="573.1" cy="401.2" r="10.95" fill="#0FAFC8" stroke="#161628" stroke-width="1.05"/>
<circle cx="615.0" cy="425.3" r="10.95" fill="#14AAD2" stroke="#161628" stroke-width="1.05"/>
<circle cx="606.9" cy="410.5" r="10.95" fill="#199BD7" stroke="#161628" stroke-width="1.05"/>
<circle cx="495.2" cy="490.8" r="10.95" fill="#2DC38C" stroke="#161628" stroke-width="1.05"/>
<circle cx="507.2" cy="511.6" r="10.95" fill="#1EB9A5" stroke="#161628" stroke-width="1.05"/>
<circle cx="545.1" cy="513.9" r="10.95" fill="#1EA0D7" stroke="#161628" stroke-width="1.05"/>
<circle cx="567.6" cy="521.0" r="10.95" fill="#1EA0D7" stroke="#161628" stroke-width="1.05"/>
<circle cx="526.5" cy="531.0" r="10.95" fill="#1EA0DC" stroke="#161628" stroke-width="1.05"/>
<circle cx="545.3" cy="544.5" r="10.95" fill="#1EA0DC" stroke="#161628" stroke-width="1.05"/>
<circle cx="585.9" cy="531.0" r="10.95" fill="#1EA0DC" stroke="#161628" stroke-width="1.05"/>
<circle cx="567.6" cy="536.4" r="10.95" fill="#1EA0DC" stroke="#161628" stroke-width="1.05"/>
<circle cx="590.0" cy="484.1" r="10.95" fill="#19A5D2" stroke="#161628" stroke-width="1.05"/>
</svg></body></html>
